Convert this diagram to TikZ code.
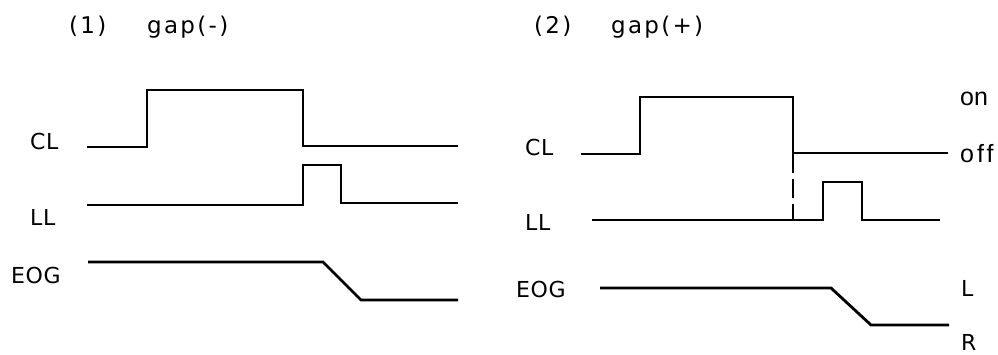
\documentclass[tikz,border=0pt]{standalone}
\usepackage{fontspec}
\setmainfont[LetterSpace=3]{DejaVu Sans}
\newfontfamily\lowfont{Liberation Sans}
\begin{document}
\begin{tikzpicture}[x=1pt,y=-1pt,
  lbl/.style={anchor=base west,inner sep=0pt,font=\fontsize{22}{26}\selectfont},
  lowlbl/.style={anchor=base west,inner sep=0pt,font=\lowfont\fontsize{25}{29}\selectfont},
  ttl/.style={anchor=base west,inner sep=0pt,font=\fontsize{23}{27}\selectfont\addfontfeature{LetterSpace=10}},
  wave/.style={line width=2.8pt,line join=miter,black}]
\useasboundingbox (0,0) rectangle (998,354);
% titles
\node[ttl] (t1a) at (69,33) {(1)};
\node[ttl] (t1b) at (147,33) {gap(-)};
\node[ttl] (t2a) at (534,33) {(2)};
\node[ttl] (t2b) at (611,33) {gap(+)};
% left labels
\node[lbl] (cl1) at (30,149) {CL};
\node[lbl] (ll1) at (30,225) {LL};
\node[lbl] (eog1) at (11,283) {EOG};
% right labels
\node[lbl] (cl2) at (525,155) {CL};
\node[lbl] (ll2) at (525,230) {LL};
\node[lbl] (eog2) at (516,297) {EOG};
\node[lowlbl] (on) at (960,105) {on};
\node[lowlbl,font=\lowfont\fontsize{25}{29}\selectfont\addfontfeature{LetterSpace=12}] (off) at (960,162) {off};
\node[lbl] (L) at (961,296) {L};
\node[lbl] (R) at (961,350) {R};
% left waves
\draw[wave] (87,147) -- (147,147) -- (147,90) -- (303,90) -- (303,146) -- (458,146);
\draw[wave] (87,205) -- (303,205) -- (303,165) -- (341,165) -- (341,203) -- (458,203);
\draw[wave] (88,262) -- (323,262) -- (361,300) -- (458,300);
% right waves
\draw[wave] (581,154) -- (640,154) -- (640,97) -- (793,97) -- (793,153) -- (948,153);
\draw[wave,dash pattern=on 19pt off 6pt] (793,154) -- (793,220);
\draw[wave] (592,220) -- (823,220) -- (823,182) -- (862,182) -- (862,220) -- (940,220);
\draw[wave] (600,288) -- (831,288) -- (871,325) -- (949,325);
\end{tikzpicture}
\end{document}
